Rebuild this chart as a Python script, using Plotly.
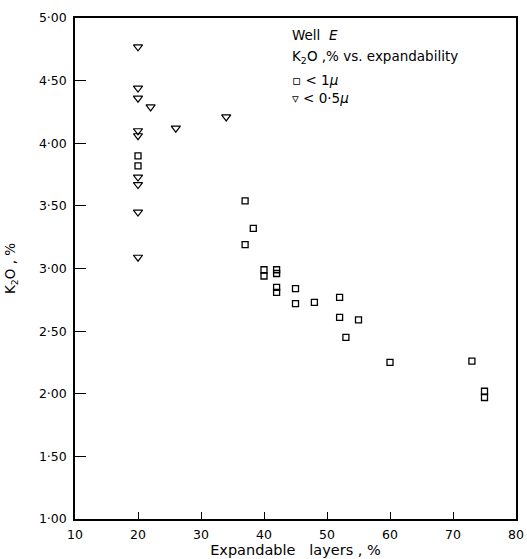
import plotly.graph_objects as go

# Data
sq_x = [20, 20, 37, 38.3, 37, 40, 40, 42, 42, 42, 42, 45, 45, 48, 52, 52, 55, 53, 60, 73, 75, 75]
sq_y = [3.90, 3.82, 3.54, 3.32, 3.19, 2.99, 2.94, 2.99, 2.96, 2.85, 2.81, 2.84, 2.72, 2.73, 2.77, 2.61, 2.59, 2.45, 2.25, 2.26, 2.02, 1.97]

tri_x = [20, 20, 20, 22, 34, 26, 20, 20, 20, 20, 20, 20]
tri_y = [4.77, 4.44, 4.36, 4.29, 4.21, 4.12, 4.10, 4.06, 3.73, 3.67, 3.45, 3.09]

x_ticks = [10, 20, 30, 40, 50, 60, 70, 80]
y_ticks = [1.0, 1.5, 2.0, 2.5, 3.0, 3.5, 4.0, 4.5, 5.0]
y_ticktext = ["1·00", "1·50", "2·00", "2·50", "3·00", "3·50", "4·00", "4·50", "5·00"]

FONT = "DejaVu Sans"

fig = go.Figure()
fig.add_trace(go.Scatter(
    x=sq_x, y=sq_y, mode="markers", name="< 1μ",
    marker=dict(symbol="square-open", size=6, color="black", line=dict(width=1.3, color="black")),
    showlegend=False))
fig.add_trace(go.Scatter(
    x=tri_x, y=tri_y, mode="markers", name="< 0·5μ",
    marker=dict(symbol="triangle-down-open", size=8, color="black", line=dict(width=1.2, color="black")),
    showlegend=False))

axis_common = dict(showline=True, linecolor="black", linewidth=1.5, mirror=True,
                   ticks="inside", tickcolor="black", tickwidth=1.3,
                   showgrid=False, zeroline=False, automargin=False,
                   tickfont=dict(family=FONT, size=12.5, color="black"))

fig.update_layout(
    width=527, height=559,
    margin=dict(l=75, r=11, t=18, b=40),
    paper_bgcolor="white", plot_bgcolor="white",
    xaxis=dict(range=[10, 80], tickvals=x_ticks, ticklen=7, ticklabelstandoff=3,
               title=dict(text="Expandable   layers , %", font=dict(family=FONT, size=14.5, color="black"), standoff=4),
               **axis_common),
    yaxis=dict(range=[1, 5], tickvals=y_ticks, ticktext=y_ticktext, ticklen=11, ticklabelstandoff=4,
               title=dict(text="K<sub>2</sub>O , %", font=dict(family=FONT, size=13.5, color="black"), standoff=20),
               **axis_common),
)

ann_font = dict(family=FONT, size=13.5, color="black")
texts = [
    ("Well  <i>E</i>", 35),
    ("K<sub>2</sub>O ,% vs. expandability", 57),
    ("▫ < 1<i>μ</i>", 80),
    ("▿ < 0·5<i>μ</i>", 98),
]
for t, ypx in texts:
    fig.add_annotation(text=t, xref="paper", yref="paper",
                       x=(290 - 75) / 441, y=(519 - ypx) / 501,
                       xanchor="left", yanchor="middle", showarrow=False, font=ann_font)

fig.write_html("out.html")
